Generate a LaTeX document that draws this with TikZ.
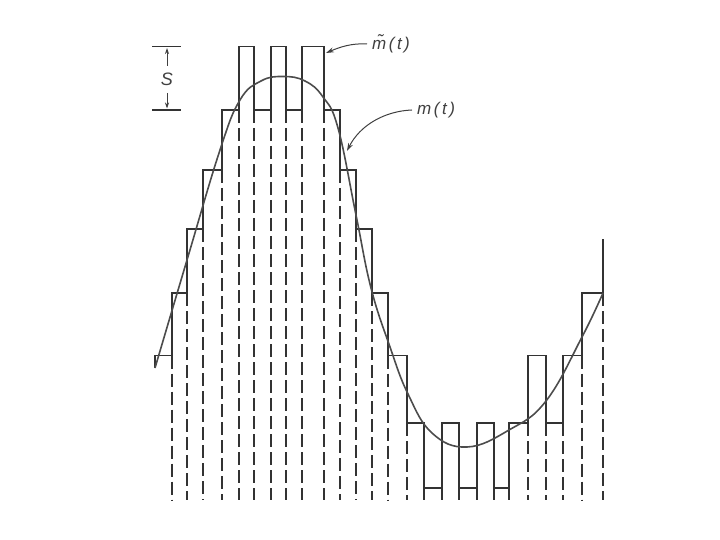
\documentclass[tikz,border=0pt]{standalone}
\usepackage{fontspec}
\setmainfont{Liberation Sans}
\usetikzlibrary{arrows.meta}
\tikzset{
  stair/.style={draw=black!80, line width=1.3pt, line join=miter},
  dln/.style={draw=black!80, line width=1.7pt, dash pattern=on 13pt off 5pt},
  sig/.style={draw=black!70, line width=1.6pt},
  lbl/.style={font=\fontsize{17}{19}\selectfont\itshape, text=black!75, inner sep=0pt},
  ptr/.style={draw=black!75, line width=1pt, -{Stealth[length=8pt,width=5pt]}},
  sarr/.style={draw=black!75, line width=0.9pt, -{Stealth[length=6pt,width=4pt]}},
  tick/.style={draw=black!80, line width=1.3pt}
}
\begin{document}
\begin{tikzpicture}[x=1pt,y=-1pt]
\useasboundingbox (0,0) rectangle (720,540);
% dashed sample lines
\foreach \xx/\yy in {172/355.5, 187/293, 203/229, 222/170, 239/110, 254/110, 271/110, 286/110, 302/110, 324/110, 340/170, 356/229, 372/293, 388/355.5, 407/423, 424/488, 442/488, 459/488, 477/488, 494/488, 509/488, 528/423, 546/423, 563/423, 582/355.5, 603/293}
  \draw[dln] (\xx,\yy) -- (\xx,500);
% staircase approximation
\draw[stair] (155,368) -- (155,355.5) -- (172,355.5) -- (172,293) -- (187,293) -- (187,229) -- (203,229) -- (203,170) -- (222,170) -- (222,110) -- (239,110) -- (239,46.7) -- (254,46.7) -- (254,110) -- (271,110) -- (271,46.7) -- (286,46.7) -- (286,110) -- (302,110) -- (302,46.7) -- (324,46.7) -- (324,110) -- (340,110) -- (340,170) -- (356,170) -- (356,229) -- (372,229) -- (372,293) -- (388,293) -- (388,355.5) -- (407,355.5) -- (407,423) -- (424,423) -- (424,488) -- (442,488) -- (442,423) -- (459,423) -- (459,488) -- (477,488) -- (477,423) -- (494,423) -- (494,488) -- (509,488) -- (509,423) -- (528,423) -- (528,355.5) -- (546,355.5) -- (546,423) -- (563,423) -- (563,355.5) -- (582,355.5) -- (582,293) -- (603,293) -- (603,239);
% message signal
\draw[sig] plot[smooth, tension=0.7] coordinates {(155,368) (187,260) (220,150) (240,100) (261,81) (283,76.5) (305,81) (323,97) (338,128) (356,215) (371,288) (390,347) (408,394) (432,433) (467,447) (509,430) (546,401) (582,337) (603,293)};
% step size marker
\draw[tick] (152,46.7) -- (181,46.7);
\draw[tick] (152,110) -- (181,110);
\node[lbl, font=\fontsize{18}{20}\selectfont\itshape] (S) at (167,79) {S};
\coordinate (Stop) at (167,48);
\coordinate (Sbot) at (167,108.5);
\draw[sarr] (167,66) -- (Stop);
\draw[sarr] (167,93) -- (Sbot);
% labels
\node[lbl, anchor=west] (mhat) at (372,44) {\~{m}\kern2.5pt(\kern2.5pt t\kern2.5pt)};
\node[lbl, anchor=west] (mm) at (417,110) {m\kern2.5pt(\kern2.5pt t\kern2.5pt)};
\coordinate (mhatTip) at (326,53);
\coordinate (mTip) at (347,151);
\draw[ptr] (mhat.west) ++(-5pt,0) .. controls (352,43) and (340,47) .. (mhatTip);
\draw[ptr] (mm.west) ++(-5pt,0) .. controls (385,111) and (360,125) .. (mTip);
\end{tikzpicture}
\end{document}
